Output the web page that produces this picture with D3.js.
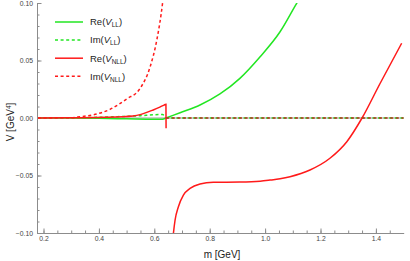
<!DOCTYPE html>
<html>
<head>
<meta charset="utf-8">
<script src="https://cdn.jsdelivr.net/npm/d3@7"></script>
<style>
  body { margin: 0; background: #fff; }
  svg { display: block; font-family: "Liberation Sans", Arial, sans-serif; }
  .axis path, .axis line { stroke: #8c8c8c; }
  .axis text { fill: #444; font-size: 6.8px; }
</style>
</head>
<body>
<svg id="chart" width="410" height="261"></svg>
<script>
// values, m in GeV, V in GeV^4
const reLLm = [0.18, 0.3, 0.4, 0.5, 0.6, 0.63, 0.642, 0.693, 0.765, 0.837, 0.909, 0.982, 1.054, 1.114, 1.13];
const reLLv = [0, -0.0001, -0.0003, -0.0007, -0.0011, -0.0011, 0, 0.0046, 0.0113, 0.0209, 0.0345, 0.0533, 0.075, 0.0997, 0.106];

const imLLm = [0.18, 0.3, 0.35, 0.45, 0.55, 0.6, 0.63, 0.643, 1.5];
const imLLv = [0, 0.0001, 0.0003, 0.001, 0.002, 0.0028, 0.003, 0, 0];

// Re(V_NLL) has two branches: below and above the jump near 0.645
const reNLLm1 = [0.18, 0.3, 0.428, 0.524, 0.596, 0.62, 0.635, 0.642, 0.6425];
const reNLLv1 = [0, 0.0002, 0.0006, 0.0017, 0.007, 0.0095, 0.0112, 0.012, -0.009];
const reNLLm2 = [0.666, 0.669, 0.675, 0.687, 0.705, 0.729, 0.765, 0.813, 0.909, 0.982, 1.018, 1.054, 1.09, 1.162, 1.234, 1.295, 1.35, 1.415, 1.493];
const reNLLv2 = [-0.108, -0.1003, -0.0887, -0.0771, -0.067, -0.0612, -0.0574, -0.0559, -0.0557, -0.055, -0.054, -0.0528, -0.051, -0.0452, -0.035, -0.0206, 0, 0.030, 0.065];

const imNLLm1 = [0.18, 0.3, 0.332, 0.38, 0.44, 0.5, 0.548, 0.585, 0.609, 0.63, 0.638];
const imNLLv1 = [0, 0.0003, 0.0011, 0.0028, 0.0075, 0.0165, 0.0255, 0.0446, 0.0678, 0.1003, 0.118];
const imNLLm2 = [0.643, 1.5];
const imNLLv2 = [0, 0];

const xTicks = [0.2, 0.4, 0.6, 0.8, 1.0, 1.2, 1.4];
const yTicks = [-0.10, -0.05, 0.00, 0.05, 0.10];

const legendLabels = [["Re(", "LL"], ["Im(", "LL"], ["Re(", "NLL"], ["Im(", "NLL"]];

const GREEN = "#22e622", RED = "#ff1a1a";
const DASH = "3,2.6";

const svg = d3.select("#chart");
const x = d3.scaleLinear().domain([0.1765, 1.5]).range([37, 403.6]);
const y = d3.scaleLinear().domain([-0.1, 0.1]).range([233, 3]);

function pts(ms, vs) { return ms.map((m, i) => [m, vs[i]]); }

const series = [
    { data: pts(reLLm, reLLv), color: GREEN, dash: null },
    { data: pts(imLLm, imLLv), color: GREEN, dash: DASH },
    { data: pts(reNLLm1, reNLLv1), color: RED, dash: null },
    { data: pts(reNLLm2, reNLLv2), color: RED, dash: null },
    { data: pts(imNLLm1, imNLLv1), color: RED, dash: DASH },
    { data: pts(imNLLm2, imNLLv2), color: "#b8341c", dash: DASH }
];

svg.append("defs").append("clipPath").attr("id", "plotClip")
    .append("rect").attr("x", 37).attr("y", 3).attr("width", 367).attr("height", 230);

// zero line
svg.append("line")
    .attr("x1", x(0.1765)).attr("x2", x(1.5))
    .attr("y1", y(0)).attr("y2", y(0))
    .attr("stroke", "#9a9a9a").attr("stroke-width", 1);

// axes
const xMinor = d3.range(0.2, 1.5, 0.05);
const yMinor = d3.range(-0.1, 0.1001, 0.01);

svg.append("g").attr("class", "axis").attr("transform", "translate(0,233)")
    .call(d3.axisBottom(x).tickValues(xMinor).tickFormat("").tickSize(-2.5).tickSizeOuter(0));
svg.append("g").attr("class", "axis").attr("transform", "translate(0,233)")
    .call(d3.axisBottom(x).tickValues(xTicks).tickFormat(d3.format(".1f")).tickSize(-4.5).tickSizeOuter(0).tickPadding(3));

svg.append("g").attr("class", "axis").attr("transform", "translate(37,0)")
    .call(d3.axisLeft(y).tickValues(yMinor).tickFormat("").tickSize(-2.5).tickSizeOuter(0));
svg.append("g").attr("class", "axis").attr("transform", "translate(37,0)")
    .call(d3.axisLeft(y).tickValues(yTicks).tickFormat(d => d3.format(".2f")(d).replace("-", "\u2212")).tickSize(-4.5).tickSizeOuter(0).tickPadding(4));

svg.selectAll(".axis .domain").attr("stroke", "#8c8c8c");

// curves
const line = d3.line().x(d => x(d[0])).y(d => y(d[1])).curve(d3.curveMonotoneX);
const plot = svg.append("g").attr("clip-path", "url(#plotClip)");
plot.selectAll("path.curve").data(series).enter().append("path")
    .attr("class", "curve")
    .attr("d", d => line(d.data))
    .attr("fill", "none")
    .attr("stroke", d => d.color)
    .attr("stroke-width", 1.5)
    .attr("stroke-dasharray", d => d.dash);

// legend
const legend = svg.append("g");
const legendStyle = [[GREEN, null], [GREEN, DASH], [RED, null], [RED, DASH]];
legendLabels.forEach((lab, i) => {
    const ly = 22 + i * 18.1;
    legend.append("line")
        .attr("x1", 55).attr("x2", 83).attr("y1", ly).attr("y2", ly)
        .attr("stroke", legendStyle[i][0]).attr("stroke-width", 1.5)
        .attr("stroke-dasharray", legendStyle[i][1]);
    const t = legend.append("text").attr("x", 90).attr("y", ly + 3.3)
        .attr("font-size", 9.5).attr("fill", "#222");
    t.append("tspan").text(lab[0]);
    t.append("tspan").attr("font-style", "italic").text("V");
    t.append("tspan").attr("font-size", 6.5).attr("dy", 2).text(lab[1]);
    t.append("tspan").attr("dy", -2).text(")");
});

// axis titles
svg.append("text").attr("x", 222).attr("y", 258).attr("text-anchor", "middle")
    .attr("font-size", 10).attr("fill", "#222").text("m [GeV]");

const yt = svg.append("text").attr("transform", "translate(14,122) rotate(-90)")
    .attr("text-anchor", "middle").attr("font-size", 10).attr("fill", "#222");
yt.append("tspan").text("V [GeV");
yt.append("tspan").attr("font-size", 6.5).attr("dy", -3.5).text("4");
yt.append("tspan").attr("dy", 3.5).text("]");
</script>
</body>
</html>
